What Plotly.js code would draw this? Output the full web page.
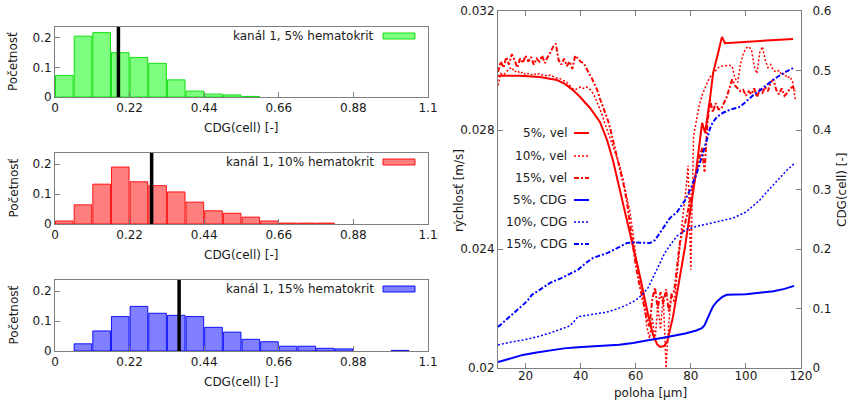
<!DOCTYPE html>
<html><head><meta charset="utf-8">
<script src="https://cdn.plot.ly/plotly-3.0.1.min.js"></script>
<style>html,body{margin:0;padding:0;background:#fff;}#chart{width:849px;height:406px;}</style>
</head><body><div id="chart"></div>
<script>
// ---------- histogram data ----------
const binCenters = [0.0275,0.0825,0.1375,0.1925,0.2475,0.3025,0.3575,0.4125,0.4675,0.5225,0.5775,0.6325,0.6875,0.7425,0.7975,0.8525,0.9075,0.9625,1.0175,1.0725];
const freq5  = [0.073,0.206,0.218,0.150,0.134,0.114,0.058,0.020,0.010,0.007,0.002,0,0,0,0,0,0,0,0,0];
const freq10 = [0.010,0.064,0.133,0.190,0.141,0.128,0.107,0.073,0.044,0.036,0.023,0.010,0.003,0.003,0.003,0,0,0,0,0];
const freq15 = [0,0.024,0.067,0.115,0.149,0.126,0.119,0.115,0.079,0.063,0.039,0.031,0.016,0.016,0.009,0.007,0,0,0.002,0];
const meanCDG = [0.187, 0.285, 0.366];
const histLabels = ['kanál 1, 5% hematokrit','kanál 1, 10% hematokrit','kanál 1, 15% hematokrit'];
const histTickVals = [0,0.22,0.44,0.66,0.88,1.1];
const histTickText = ['0','0.22','0.44','0.66','0.88','1.1'];

// ---------- profile data ----------
const polohaGrid = [10,11,12,13,14,15,16,17,18,19,20,21,22,23,24,25,26,27,28,29,30,31,32,33,34,35,36,37,38,39,40,41,42,43,44,45,46,47,48,49,50,51,52,53,54,55,56,57,58,59,60,61,62,63,64,65,66,67,68,69,70,71,72,73,74,75,76,77,78,79,80,81,82,83,84,85,86,87,88,89,90,91,92,93,94,95,96,97,98,99,100,101,102,103,104,105,106,107,108,109,110,111,112,113,114,115,116,117,118];
const vel10 = [0.02950,0.02990,0.02985,0.02995,0.03005,0.03010,0.02995,0.03000,0.02990,0.02995,
 0.02985,0.02990,0.02985,0.02990,0.02985,0.02990,0.02985,0.02985,0.02980,0.02985,
 0.02980,0.02975,0.02975,0.02970,0.02965,0.02960,0.02950,0.02940,0.02935,0.02940,
 0.02945,0.02940,0.02945,0.02940,0.02930,0.02915,0.02895,0.02870,0.02845,0.02815,
 0.02790,0.02765,0.02740,0.02710,0.02685,0.02650,0.02610,0.02565,0.02520,0.02455,
 0.02380,0.02330,0.02280,0.02220,0.02140,0.02100,0.02170,0.02090,0.02210,0.02130,
 0.02240,0.02000,0.02150,0.02250,0.02220,0.02320,0.02400,0.02500,0.02580,0.02680,
 0.02330,0.02780,0.02830,0.02880,0.02915,0.02940,0.02960,0.02978,0.02990,0.03000,
 0.03010,0.03014,0.03016,0.03018,0.03018,0.03015,0.02975,0.02960,0.03020,0.03055,
 0.03075,0.03080,0.03070,0.03015,0.02990,0.03060,0.03080,0.03035,0.03010,0.03020,
 0.03000,0.02995,0.03000,0.02985,0.02990,0.02975,0.02980,0.02960,0.02900];
const vel15 = [0.02995,0.03030,0.03010,0.03045,0.03020,0.03055,0.03035,0.03010,0.03040,0.03025,
 0.03050,0.03030,0.03045,0.03020,0.03040,0.03030,0.03050,0.03025,0.03045,0.03060,
 0.03080,0.03090,0.03035,0.03020,0.03040,0.03015,0.03030,0.03005,0.03050,0.03040,
 0.03030,0.03025,0.03010,0.02990,0.02975,0.02955,0.02935,0.02905,0.02880,0.02855,
 0.02830,0.02795,0.02755,0.02715,0.02680,0.02645,0.02600,0.02545,0.02475,0.02400,
 0.02345,0.02295,0.02250,0.02200,0.02165,0.02140,0.02230,0.02270,0.02200,0.02255,
 0.02215,0.02265,0.02190,0.02245,0.02260,0.02340,0.02420,0.02460,0.02490,0.02530,
 0.02580,0.02620,0.02660,0.02700,0.02740,0.02660,0.02820,0.02900,0.02860,0.02890,
 0.02870,0.02870,0.02890,0.02910,0.02940,0.02970,0.02950,0.02940,0.02930,0.02935,
 0.02915,0.02930,0.02920,0.02940,0.02910,0.02935,0.02925,0.02945,0.02930,0.02960,
 0.02970,0.02935,0.02920,0.02940,0.02915,0.02925,0.02940,0.02945,0.02930];
const vel5X = [10,18,25.2,31.4,34.3,37.2,39.8,43.4,47,49.6,51.7,54.3,57.9,61.6,64.5,66.3,67.7,68.8,70.3,71.4,73.5,75.3,77.9,79.7,81.5,84.1,85.2,87,88.1,89.9,91.3,92.4,117.1];
const vel5 = [0.02982,0.02982,0.02978,0.02968,0.02955,0.02934,0.02911,0.02874,0.02827,0.02766,0.02699,0.02598,0.02457,0.02306,0.02178,0.02111,0.02081,0.02071,0.02074,0.02087,0.02171,0.02262,0.02407,0.02521,0.02632,0.02824,0.02790,0.02908,0.02992,0.03059,0.03113,0.03092,0.03106];
const cdg5X = [10,15,19,24,29,34,39,44,50,54,59,62,65,70,73.5,78,82,84,85,86.2,87,88,89.5,91.3,93,100,105,110,114,117.5];
const cdg5 = [0.010,0.017,0.022,0.026,0.030,0.033,0.035,0.036,0.037,0.039,0.042,0.044,0.047,0.051,0.054,0.058,0.063,0.067,0.072,0.086,0.093,0.103,0.112,0.119,0.123,0.124,0.126,0.129,0.133,0.138];
const cdg10X = [10,14,19,24,29,33,36,37.2,39,44,49.6,53,56.8,60,62.6,64.5,66.3,68.8,70.5,72.4,75,78.6,82,86,90,95.3,100,105,108,112.4,115,117.8];
const cdg10 = [0.0387,0.043,0.047,0.052,0.059,0.066,0.0706,0.076,0.086,0.090,0.094,0.099,0.106,0.114,0.124,0.135,0.153,0.178,0.193,0.206,0.222,0.233,0.238,0.242,0.246,0.252,0.262,0.282,0.298,0.321,0.333,0.3445];
const cdg15X = [10,14,17,19.8,21,22.3,25,28.9,33,36,39,42,44.5,49.6,53,56.8,60,65.2,67,68.8,70,72.4,75,77.9,79.7,82,84.4,86,87,88,89.5,91.7,94.2,97.9,102.5,106,109.8,113,117.1];
const cdg15 = [0.069,0.085,0.097,0.109,0.115,0.123,0.131,0.143,0.151,0.158,0.165,0.177,0.185,0.193,0.201,0.210,0.211,0.210,0.215,0.227,0.236,0.252,0.262,0.282,0.299,0.325,0.361,0.385,0.403,0.413,0.422,0.429,0.434,0.439,0.458,0.470,0.484,0.494,0.504];
const profLabels = ['5%, vel','10%, vel','15%, vel','5%, CDG','10%, CDG','15%, CDG'];

// ---------- styling ----------
const FONT = 'DejaVu Sans';
const TXT = '#1a1a1a';
const W = 849, H = 406;
const px = x => x / W, py = y => 1 - y / H;
const DOT = '2px,2px', DASHDOT = '5px,2px,2px,2px';

const histColors = [
  {fill:'rgba(0,255,0,0.5)', line:'rgba(0,220,0,0.9)'},
  {fill:'rgba(255,0,0,0.5)', line:'rgba(255,0,0,0.9)'},
  {fill:'rgba(0,0,255,0.5)', line:'rgba(0,0,255,0.9)'}
];
const histY = [[27,97],[153,224],[280,351]];
const freqs = [freq5, freq10, freq15];

const axBase = {showgrid:false, zeroline:false, showline:true, linecolor:'#7f7f7f', linewidth:1,
  ticks:'inside', ticklen:5, tickcolor:'#7f7f7f', tickfont:{family:FONT, size:12, color:TXT}, fixedrange:true};

const traces = [];
const layout = {width:W, height:H, margin:{l:0,r:0,t:0,b:0}, paper_bgcolor:'#fff', plot_bgcolor:'#fff',
  showlegend:false, hovermode:false, font:{family:FONT,size:12,color:TXT}, annotations:[], shapes:[]};

for (let i = 0; i < 3; i++) {
  const xa = i === 0 ? 'x' : 'x' + (i+1), ya = i === 0 ? 'y' : 'y' + (i+1);
  const xk = i === 0 ? 'xaxis' : 'xaxis' + (i+1), yk = i === 0 ? 'yaxis' : 'yaxis' + (i+1);
  traces.push({type:'bar', x:binCenters, y:freqs[i], width:0.052, xaxis:xa, yaxis:ya,
    marker:{color:histColors[i].fill, line:{color:histColors[i].line, width:freqs[i].map(v => v > 0 ? 1 : 0)}}});
  traces.push({type:'scatter', mode:'lines', x:[meanCDG[i], meanCDG[i]], y:[0, 0.243], xaxis:xa, yaxis:ya,
    line:{color:'#000', width:3.5}, cliponaxis:false});
  layout[xk] = Object.assign({}, axBase, {domain:[px(55), px(428)], range:[0,1.1], anchor:ya, mirror:true,
    tickvals:histTickVals, ticktext:histTickText});
  layout[yk] = Object.assign({}, axBase, {domain:[py(histY[i][1]), py(histY[i][0])], range:[0,0.237], anchor:xa, mirror:true,
    tickvals:[0,0.1,0.2], ticktext:['0','0.1','0.2']});
  const ly = histY[i][0] + 9;
  layout.annotations.push({xref:'paper', yref:'paper', x:px(376), y:py(ly), xanchor:'right', yanchor:'middle',
    text:histLabels[i], showarrow:false, font:{family:FONT,size:12,color:TXT}});
  layout.shapes.push({type:'rect', xref:'paper', yref:'paper', x0:px(383), x1:px(415), y0:py(ly+3), y1:py(ly-3),
    fillcolor:histColors[i].fill, line:{color:histColors[i].line, width:1}});
  layout.annotations.push({xref:'paper', yref:'paper', x:px(13), y:py((histY[i][0]+histY[i][1])/2), xanchor:'center', yanchor:'middle',
    text:'Početnosť', textangle:-90, showarrow:false, font:{family:FONT,size:12,color:TXT}});
  layout.annotations.push({xref:'paper', yref:'paper', x:px(241), y:py(histY[i][1]+31), xanchor:'center', yanchor:'middle',
    text:'CDG(cell) [-]', showarrow:false, font:{family:FONT,size:12,color:TXT}});
}

// right chart
const profStyles = [
  {x:vel5X, y:vel5, ax:'y4', color:'#ff0000', dash:'solid', w:2},
  {x:polohaGrid, y:vel10, ax:'y4', color:'#ff0000', dash:DOT, w:1.5},
  {x:polohaGrid, y:vel15, ax:'y4', color:'#ff0000', dash:DASHDOT, w:2},
  {x:cdg5X, y:cdg5, ax:'y5', color:'#0000ff', dash:'solid', w:2},
  {x:cdg10X, y:cdg10, ax:'y5', color:'#0000ff', dash:DOT, w:1.5},
  {x:cdg15X, y:cdg15, ax:'y5', color:'#0000ff', dash:DASHDOT, w:2}
];
const legY = [133,156,178,200,222,244];
profStyles.forEach((s, k) => {
  traces.push({type:'scatter', mode:'lines', x:s.x, y:s.y, xaxis:'x4', yaxis:s.ax, name:profLabels[k],
    line:{color:s.color, dash:s.dash, width:s.w}});
  layout.annotations.push({xref:'paper', yref:'paper', x:px(569), y:py(legY[k]), xanchor:'right', yanchor:'middle',
    text:profLabels[k], showarrow:false, font:{family:FONT,size:12,color:TXT}});
  layout.shapes.push({type:'line', xref:'paper', yref:'paper', x0:px(574), x1:px(589), y0:py(legY[k]), y1:py(legY[k]),
    line:{color:s.color, dash:s.dash, width:s.w}});
});
layout.xaxis4 = Object.assign({}, axBase, {domain:[px(498), px(801)], range:[10,120], anchor:'y4', mirror:'ticks',
  tickvals:[20,40,60,80,100,120], ticklabelstandoff:-3});
layout.yaxis4 = Object.assign({}, axBase, {domain:[py(368), py(11)], range:[0.02,0.032], anchor:'x4', mirror:true,
  tickvals:[0.02,0.024,0.028,0.032], ticktext:['0.02','0.024','0.028','0.032']});
layout.yaxis5 = Object.assign({}, axBase, {overlaying:'y4', side:'right', anchor:'x4', range:[0,0.6], ticklabelstandoff:8,
  tickvals:[0,0.1,0.2,0.3,0.4,0.5,0.6], ticktext:['0','0.1','0.2','0.3','0.4','0.5','0.6']});
layout.annotations.push({xref:'paper', yref:'paper', x:px(459), y:py(190), xanchor:'center', yanchor:'middle',
  text:'rýchlosť [m/s]', textangle:-90, showarrow:false, font:{family:FONT,size:12,color:TXT}});
layout.annotations.push({xref:'paper', yref:'paper', x:px(842), y:py(190), xanchor:'center', yanchor:'middle',
  text:'CDG(cell) [-]', textangle:-90, showarrow:false, font:{family:FONT,size:12,color:TXT}});
layout.annotations.push({xref:'paper', yref:'paper', x:px(650), y:py(393), xanchor:'center', yanchor:'middle',
  text:'poloha [μm]', showarrow:false, font:{family:FONT,size:12,color:TXT}});

Plotly.newPlot('chart', traces, layout, {staticPlot:true, displayModeBar:false});
</script></body></html>
